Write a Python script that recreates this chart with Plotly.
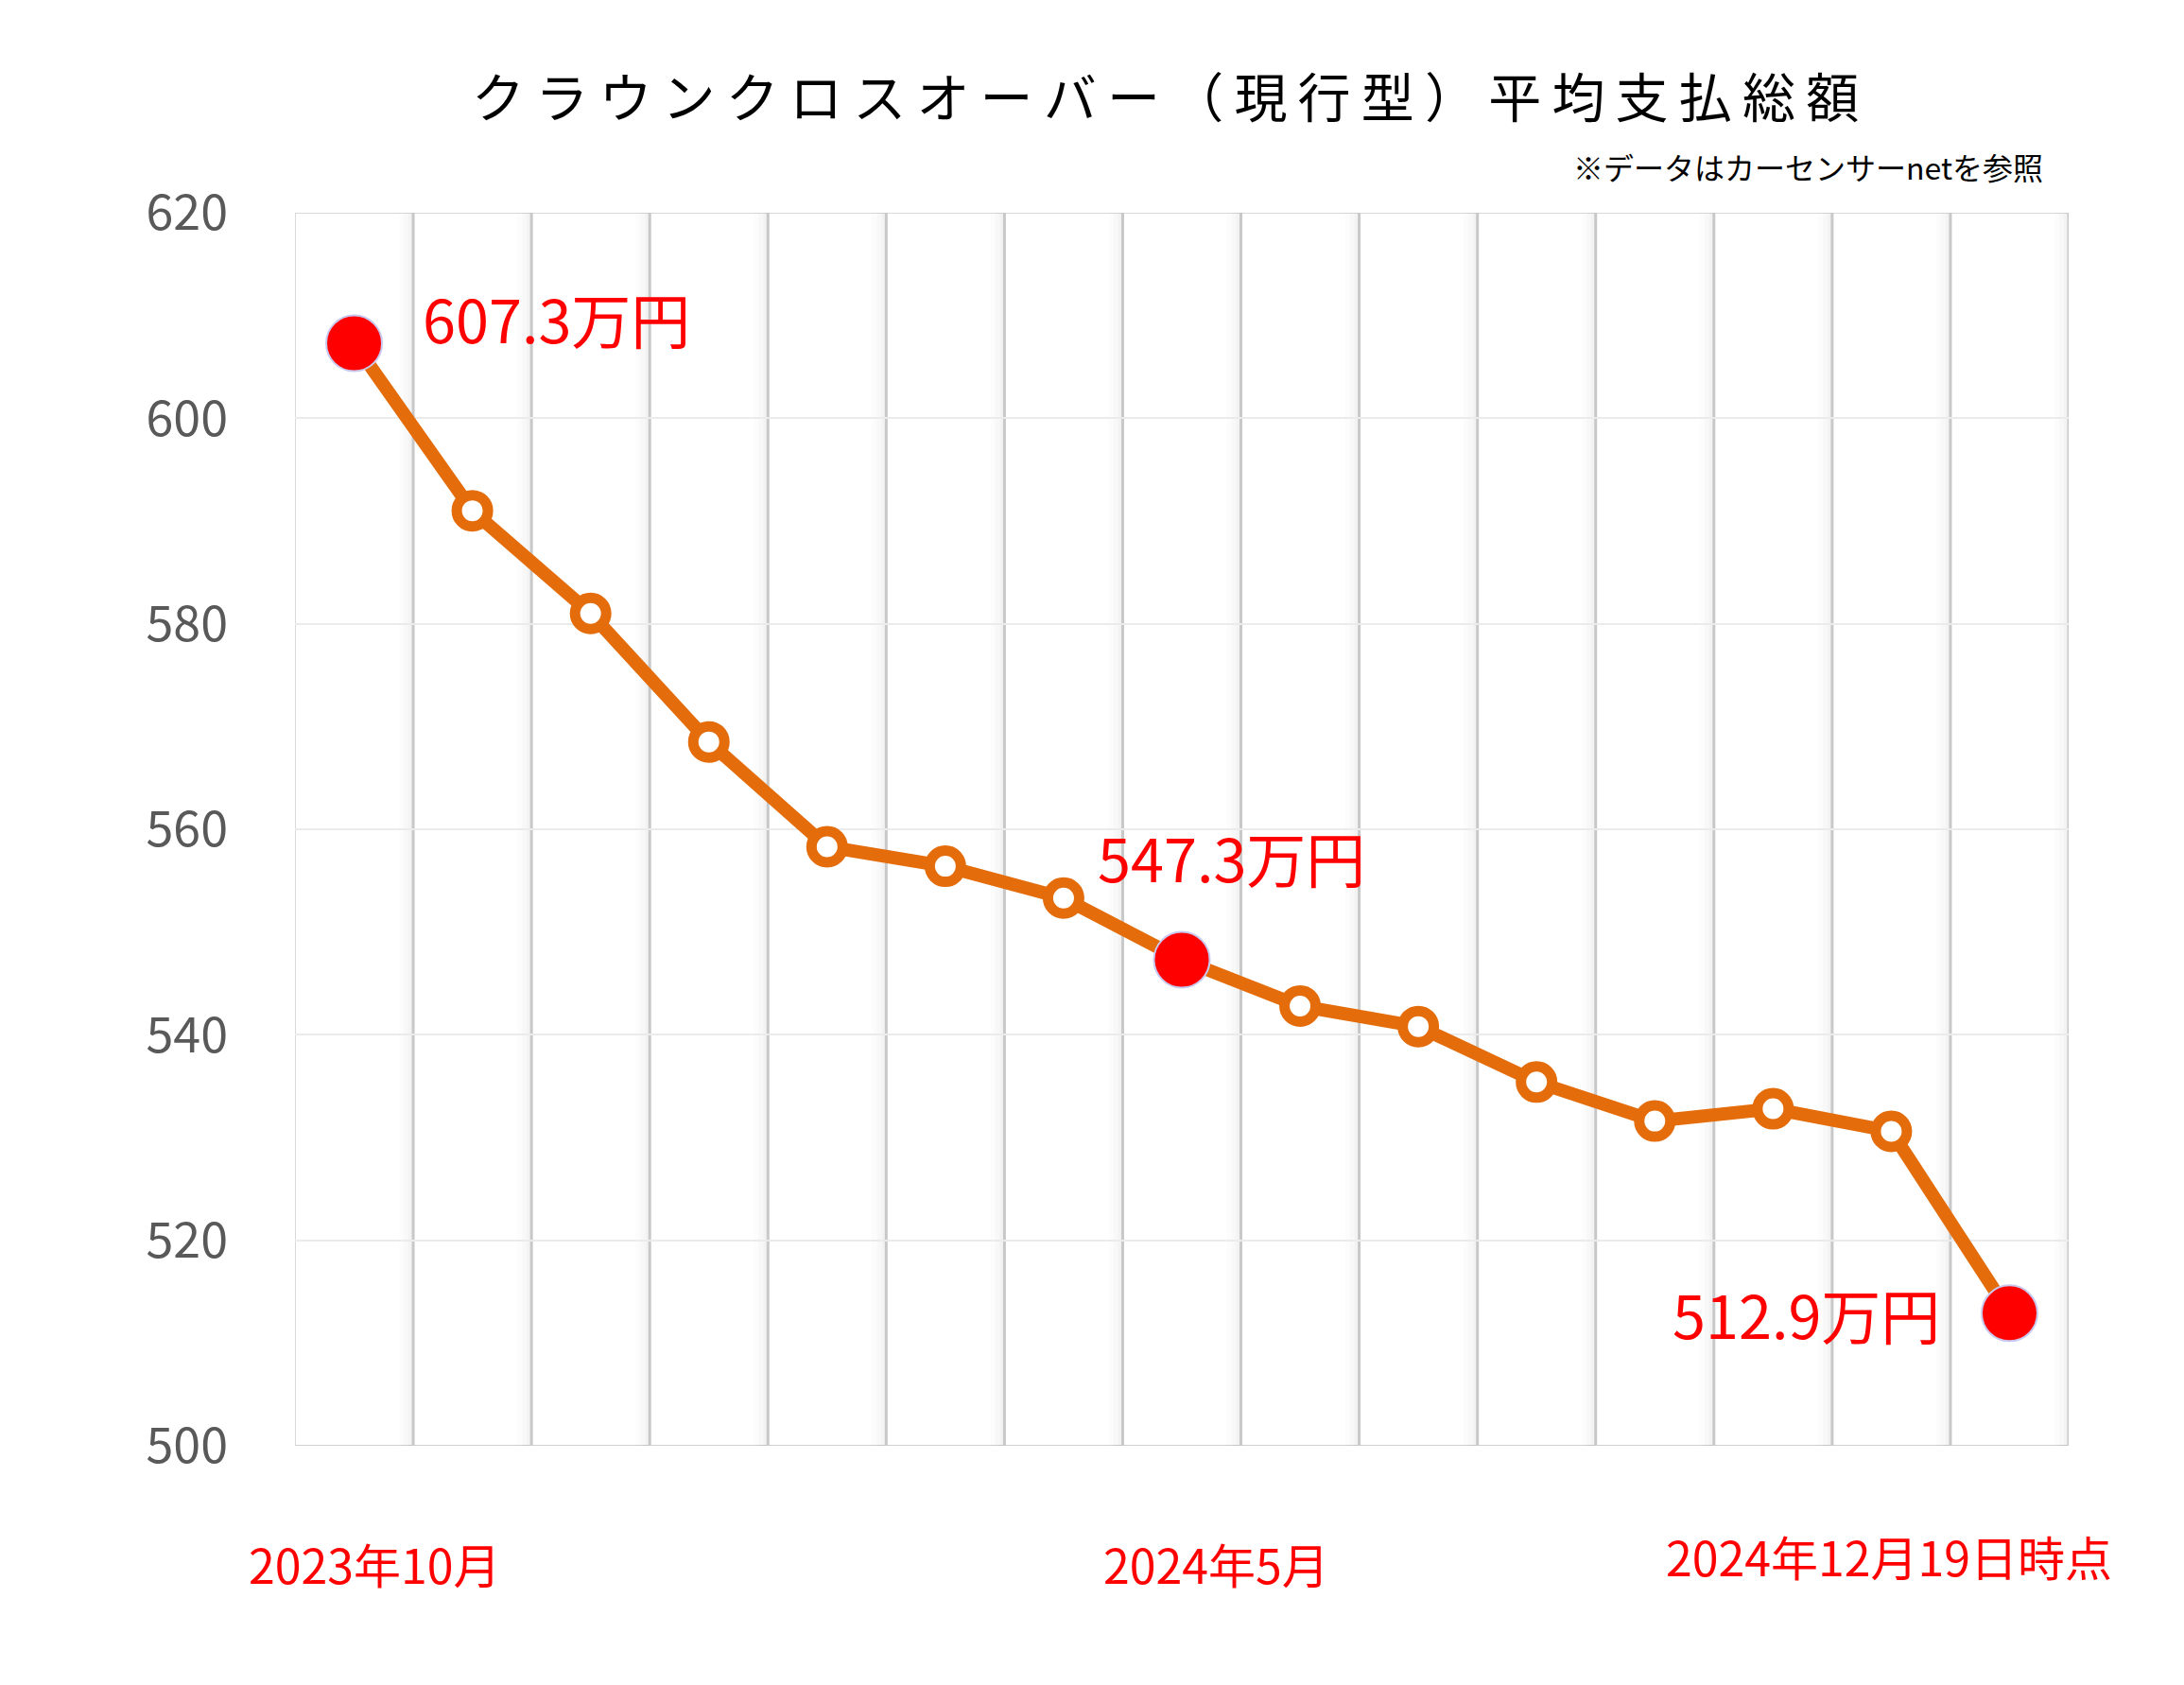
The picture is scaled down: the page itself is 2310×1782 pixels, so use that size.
import plotly.graph_objects as go

# ---- data ----
months = list(range(1, 16))
avg_total = [607.3, 591.0, 581.0, 568.5, 558.3, 556.4, 553.3, 547.3,
             542.8, 540.8, 535.4, 531.6, 532.8, 530.6, 512.9]
highlight_idx = [0, 7, 14]
value_labels = ["607.3万円", "547.3万円", "512.9万円"]
date_labels = ["2023年10月", "2024年5月", "2024年12月19日時点"]
y_ticks = [500, 520, 540, 560, 580, 600, 620]

title_text = "クラウンクロスオーバー（現行型）平均支払総額"
note_text = "※データはカーセンサーnetを参照"

FONT = "Noto Sans CJK JP"
ORANGE = "#E46C0A"
RED = "#FF0000"

fig = go.Figure()

# main line with hollow markers
fig.add_trace(go.Scatter(
    x=months, y=avg_total, mode="lines+markers",
    line=dict(color=ORANGE, width=14),
    marker=dict(size=33, color="white", line=dict(color=ORANGE, width=11)),
    showlegend=False, hoverinfo="skip"))

# highlighted points
fig.add_trace(go.Scatter(
    x=[months[i] for i in highlight_idx],
    y=[avg_total[i] for i in highlight_idx],
    mode="markers",
    marker=dict(size=59, color=RED, line=dict(color="#C9C9F0", width=2)),
    showlegend=False, hoverinfo="skip"))

# vertical gridlines with soft shadow
n = len(months)
bounds = [m + 0.5 for m in months]
shapes = []
for b in bounds:
    for k, op in [(0.12, 0.010), (0.08, 0.014), (0.04, 0.02)]:
        shapes.append(dict(type="rect", xref="x", yref="y",
                           x0=b - k, x1=b, y0=y_ticks[0], y1=y_ticks[-1],
                           line=dict(width=0), fillcolor="black", opacity=op,
                           layer="below"))
    shapes.append(dict(type="line", xref="x", yref="y", x0=b, x1=b,
                       y0=y_ticks[0], y1=y_ticks[-1],
                       line=dict(color="#C8C8C8", width=3), layer="below"))
# left border
shapes.append(dict(type="line", xref="x", yref="y", x0=0.5, x1=0.5,
                   y0=y_ticks[0], y1=y_ticks[-1],
                   line=dict(color="#D9D9D9", width=2), layer="below"))

annotations = []
# title
annotations.append(dict(text=title_text.replace("", "\u2009").strip("\u2009"),
                        xref="paper", yref="paper", x=0.5, y=1, xshift=-18, yshift=126,
                        xanchor="center", yanchor="middle", showarrow=False,
                        font=dict(family=FONT, size=56, color="black")))
annotations.append(dict(text=note_text, xref="paper", yref="paper", x=1, y=1,
                        xshift=-25, yshift=49, xanchor="right", yanchor="middle",
                        showarrow=False,
                        font=dict(family=FONT, size=32, color="black")))

# value labels
lab_offsets = [(70, 28, "left"), (52, 110, "center"), (-71, 0, "right")]
for i, txt, (dx, dy, anc) in zip(highlight_idx, value_labels, lab_offsets):
    annotations.append(dict(text=txt, x=months[i], y=avg_total[i], xref="x", yref="y",
                            xshift=dx, yshift=dy, xanchor=anc, yanchor="middle",
                            showarrow=False,
                            font=dict(family=FONT, size=63, color=RED)))

# date labels
date_offsets = [(22, -124), (36, -124), (-127, -116)]
for i, txt, (dx, dy) in zip(highlight_idx, date_labels, date_offsets):
    annotations.append(dict(text=txt, x=months[i], y=0, xref="x", yref="paper",
                            xshift=dx, yshift=dy, xanchor="center", yanchor="middle",
                            showarrow=False,
                            font=dict(family=FONT, size=50, color=RED)))

fig.update_layout(
    width=2302, height=1774,
    margin=dict(l=304, r=122, t=217, b=253),
    paper_bgcolor="white", plot_bgcolor="white",
    shapes=shapes, annotations=annotations,
    xaxis=dict(range=[0.5, n + 0.5], showgrid=False, zeroline=False,
               showticklabels=False, ticks="", showline=False, fixedrange=True),
    yaxis=dict(range=[y_ticks[0], y_ticks[-1]], tickvals=y_ticks,
               showgrid=True, gridcolor="#EBEBEB", gridwidth=2,
               zeroline=False, showline=False, ticks="",
               ticklabelstandoff=70,
               tickfont=dict(family=FONT, size=52, color="#595959")),
)
# bottom and top border lines
fig.add_hline(y=y_ticks[0], line=dict(color="#D0D0D0", width=2), layer="below")
fig.add_hline(y=y_ticks[-1], line=dict(color="#D9D9D9", width=2), layer="below")

fig.write_html("out.html")
